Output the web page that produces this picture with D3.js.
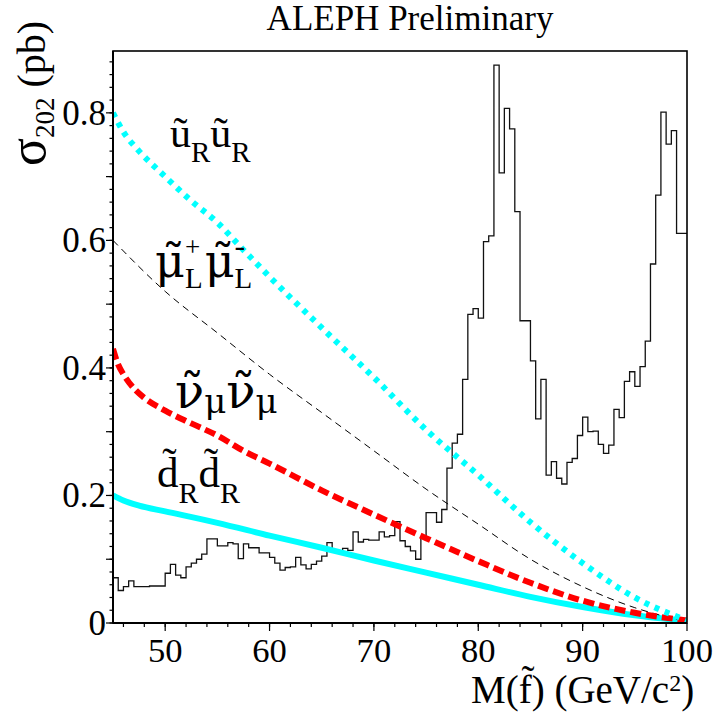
<!DOCTYPE html>
<html>
<head>
<meta charset="utf-8">
<script src="https://cdn.jsdelivr.net/npm/d3@7"></script>
<style>
  html, body { margin: 0; padding: 0; background: #fff; }
  svg { display: block; }
  text { font-family: "Liberation Serif", "Times New Roman", Times, "DejaVu Serif", serif; }
</style>
</head>
<body>
<svg id="chart" width="713" height="721"></svg>
<script>
// ---- data -------------------------------------------------------------
// observed cross-section distribution: 0.5 GeV bins starting at 45 GeV
const histStart = 45;
const histBinWidth = 0.5;
const histValues = [
  0.071, 0.051, 0.057, 0.066, 0.057, 0.057, 0.057, 0.058, 0.058, 0.058,
  0.078, 0.092, 0.075, 0.071, 0.088, 0.094, 0.100, 0.108, 0.132, 0.132,
  0.121, 0.121, 0.126, 0.124, 0.101, 0.124, 0.118, 0.118, 0.110, 0.110,
  0.103, 0.094, 0.083, 0.087, 0.088, 0.103, 0.091, 0.085, 0.092, 0.097,
  0.105, 0.126, 0.113, 0.113, 0.117, 0.114, 0.143, 0.127, 0.131, 0.130,
  0.130, 0.143, 0.135, 0.137, 0.159, 0.129, 0.120, 0.113, 0.100, 0.133,
  0.173, 0.173, 0.158, 0.178, 0.243, 0.282, 0.296, 0.382, 0.484, 0.493,
  0.478, 0.598, 0.607, 0.875, 0.706, 0.807, 0.775, 0.645, 0.474, 0.474,
  0.411, 0.320, 0.382, 0.232, 0.253, 0.227, 0.218, 0.252, 0.258, 0.294,
  0.323, 0.300, 0.301, 0.280, 0.266, 0.279, 0.335, 0.322, 0.379, 0.394,
  0.371, 0.402, 0.442, 0.563, 0.671, 0.801, 0.751, 0.772, 0.611, 0.611
];

// predicted pair-production cross sections vs. sfermion mass
const uRMass  = [45, 46, 47.5, 50, 52.5, 55, 57.5, 60, 65, 70, 75, 80, 85, 90, 95, 100];
const uRSigma = [0.800, 0.770, 0.740, 0.700, 0.662, 0.628, 0.585, 0.543, 0.463, 0.385, 0.303, 0.232, 0.158, 0.094, 0.040, 0.004];

const muLMass  = [45, 50, 55, 60, 65, 70, 75, 80, 85, 90, 95, 100];
const muLSigma = [0.600, 0.520, 0.455, 0.390, 0.330, 0.270, 0.210, 0.155, 0.100, 0.057, 0.024, 0.002];

const nuMass  = [45, 45.5, 46, 47, 48, 50, 52.5, 55, 57.5, 60, 65, 70, 75, 80, 85, 90, 95, 100];
const nuSigma = [0.430, 0.405, 0.390, 0.368, 0.353, 0.333, 0.313, 0.294, 0.270, 0.250, 0.208, 0.170, 0.133, 0.097, 0.063, 0.035, 0.016, 0.004];

const dRMass  = [45, 46, 47.5, 50, 55, 60, 65, 70, 75, 80, 85, 90, 95, 100];
const dRSigma = [0.200, 0.192, 0.184, 0.175, 0.157, 0.137, 0.118, 0.098, 0.079, 0.060, 0.041, 0.025, 0.012, 0.003];

const xTicks = [50, 60, 70, 80, 90, 100];
const yTicks = [0, 0.2, 0.4, 0.6, 0.8];
const yTickLabels = ["0", "0.2", "0.4", "0.6", "0.8"];

// ---- layout -----------------------------------------------------------
const svg = d3.select("#chart");
const plotLeft = 113, plotRight = 687, plotTop = 51, plotBottom = 623;

const x = d3.scaleLinear().domain([45, 100]).range([plotLeft, plotRight]);
const y = d3.scaleLinear().domain([0, 0.897]).range([plotBottom, plotTop]);

svg.append("defs").append("clipPath").attr("id", "plotClip")
  .append("rect").attr("x", plotLeft).attr("y", plotTop)
  .attr("width", plotRight - plotLeft).attr("height", plotBottom - plotTop);

const plot = svg.append("g").attr("clip-path", "url(#plotClip)");

// histogram as a step line
const histPts = histValues.map((v, i) => [histStart + i * histBinWidth, v]);
histPts.push([histStart + histValues.length * histBinWidth, histValues[histValues.length - 1]]);
plot.append("path")
  .attr("d", d3.line().x(d => x(d[0])).y(d => y(d[1])).curve(d3.curveStepAfter)(histPts))
  .attr("fill", "none").attr("stroke", "#111").attr("stroke-width", 1.3);

const curve = d3.line().x(d => x(d[0])).y(d => y(d[1])).curve(d3.curveMonotoneX);
const zip = (a, b) => a.map((v, i) => [v, b[i]]);

plot.append("path").attr("d", curve(zip(dRMass, dRSigma)))
  .attr("fill", "none").attr("stroke", "#00ffff").attr("stroke-width", 6);

plot.append("path").attr("d", curve(zip(muLMass, muLSigma)))
  .attr("fill", "none").attr("stroke", "#000").attr("stroke-width", 1)
  .attr("stroke-dasharray", "7,5");

plot.append("path").attr("d", curve(zip(nuMass, nuSigma)))
  .attr("fill", "none").attr("stroke", "#ff0000").attr("stroke-width", 6)
  .attr("stroke-dasharray", "11,5");

plot.append("path").attr("d", curve(zip(uRMass, uRSigma)))
  .attr("fill", "none").attr("stroke", "#00ffff").attr("stroke-width", 6)
  .attr("stroke-dasharray", "5,6");

// ---- axes -------------------------------------------------------------
const yMinor = d3.range(0, 0.8901, 0.02);
const yMajor = d3.range(0, 0.8901, 0.1);
const xMinor = d3.range(46, 100, 2);

const axisG = svg.append("g").attr("stroke", "#000");
yMinor.forEach(v => axisG.append("line")
  .attr("x1", plotLeft - 3.5).attr("x2", plotLeft).attr("y1", y(v)).attr("y2", y(v)).attr("stroke-width", 1.2));
yMajor.forEach(v => axisG.append("line")
  .attr("x1", plotLeft - 7).attr("x2", plotLeft).attr("y1", y(v)).attr("y2", y(v)).attr("stroke-width", 1.2));
xMinor.forEach(v => axisG.append("line")
  .attr("x1", x(v)).attr("x2", x(v)).attr("y1", plotBottom).attr("y2", plotBottom + 4).attr("stroke-width", 1.2));
xTicks.forEach(v => axisG.append("line")
  .attr("x1", x(v)).attr("x2", x(v)).attr("y1", plotBottom).attr("y2", plotBottom + 8).attr("stroke-width", 1.2));

// frame
axisG.append("rect").attr("x", plotLeft).attr("y", plotTop)
  .attr("width", plotRight - plotLeft).attr("height", plotBottom - plotTop)
  .attr("fill", "none").attr("stroke-width", 1.6);
axisG.append("line").attr("x1", plotLeft).attr("x2", plotLeft).attr("y1", plotTop).attr("y2", plotBottom).attr("stroke-width", 2);
axisG.append("line").attr("x1", plotLeft).attr("x2", plotRight).attr("y1", plotBottom).attr("y2", plotBottom).attr("stroke-width", 2);

// tick labels
svg.append("g").selectAll("text").data(yTicks).join("text")
  .attr("x", 106).attr("y", d => y(d) + 12)
  .attr("text-anchor", "end").attr("font-size", 35)
  .text((d, i) => yTickLabels[i]);

svg.append("g").selectAll("text").data(xTicks).join("text")
  .attr("x", d => x(d)).attr("y", 662)
  .attr("text-anchor", "middle").attr("font-size", 34.6)
  .text(d => d);

// title
svg.append("text").attr("x", 410).attr("y", 30).attr("text-anchor", "middle")
  .attr("font-size", 35).text("ALEPH Preliminary");

// Labels are single <text> elements built from positioned tspans;
// accents use the combining tilde (U+0303) on the base glyph.
const TILDE = "\u0303";
const GREEK_FONT = "DejaVu Serif, Liberation Serif, serif";
function richLabel(x0, y0, parts) {
  const t = svg.append("text");
  let cx = x0, prevStart = x0, prevW = 0;
  parts.forEach(p => {
    const start = (p.stack ? prevStart : cx) + (p.gap || 0);
    const s = t.append("tspan").attr("x", start).attr("y", y0 + (p.dy || 0))
      .attr("font-size", p.fs).text(p.t);
    if (p.greek) s.attr("font-family", GREEK_FONT);
    const w = s.node().getComputedTextLength();
    if (p.stack) {
      cx = start + Math.max(w, prevW);
    } else {
      prevStart = start; prevW = w; cx = start + w;
    }
  });
  return t;
}

// x-axis title: M(f~) (GeV/c^2)
richLabel(471, 703, [
  { t: "M(f" + TILDE + ") (GeV/c", fs: 39 },
  { t: "2", fs: 24, dy: -12 }, { t: ")", fs: 39 }
]);

// y-axis title: sigma_202 (pb)
const yTitle = svg.append("text").attr("transform", "translate(45,166) rotate(-90)")
  .attr("font-size", 40);
yTitle.append("tspan").attr("font-size", 52).text("σ");
yTitle.append("tspan").attr("font-size", 27).attr("dy", 9).text("202");
yTitle.append("tspan").attr("dy", -9).text(" (pb)");

// curve labels
richLabel(170, 147, [
  { t: "u" + TILDE, fs: 42 }, { t: "R", fs: 29, dy: 15 },
  { t: "u" + TILDE, fs: 42 }, { t: "R", fs: 29, dy: 15 }
]);

richLabel(155, 277, [
  { t: "μ" + TILDE, fs: 46, greek: true }, { t: "+", fs: 27, dy: -21 }, { t: "L", fs: 29, dy: 11, stack: true },
  { t: "μ" + TILDE, fs: 46, greek: true, gap: 2 }, { t: "-", fs: 32, dy: -21 }, { t: "L", fs: 29, dy: 11, stack: true }
]);

richLabel(175, 408, [
  { t: "ν" + TILDE, fs: 48, greek: true }, { t: "μ", fs: 34, dy: 5, greek: true },
  { t: "ν" + TILDE, fs: 48, greek: true }, { t: "μ", fs: 34, dy: 5, greek: true }
]);

richLabel(157, 487, [
  { t: "d" + TILDE, fs: 43 }, { t: "R", fs: 30, dy: 16 },
  { t: "d" + TILDE, fs: 43 }, { t: "R", fs: 30, dy: 16 }
]);
</script>
</body>
</html>
